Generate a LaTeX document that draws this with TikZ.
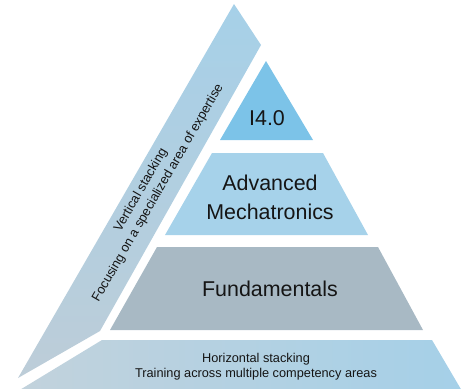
\documentclass[tikz,border=0pt]{standalone}
\usepackage{fontspec}
\setmainfont{Liberation Sans}
\definecolor{cTop}{HTML}{7CC3E8}
\definecolor{cMech}{HTML}{A6D2EA}
\definecolor{cFund}{HTML}{A8B9C4}
\definecolor{cBandA}{HTML}{A6D0E8}
\definecolor{cBandB}{HTML}{BDCDD8}
\definecolor{cBotL}{HTML}{C2D2DC}
\definecolor{cBotR}{HTML}{A5D0E8}
\definecolor{cText}{HTML}{151515}
\tikzset{
  bigtext/.style={font=\fontsize{21.5}{29}\selectfont, text=cText, align=center, inner sep=0pt},
  smalltext/.style={font=\fontsize{12.8}{15}\selectfont, text=cText, align=center, inner sep=0pt},
  slanttext/.style={font=\fontsize{13}{15}\selectfont, text=cText, inner sep=0pt, rotate=60},
}
\begin{document}
\begin{tikzpicture}[x=1bp,y=-1bp]
\useasboundingbox (0,0) rectangle (462,388);
\clip (0,0) rectangle (462,388);
% vertical band
\shade[top color=cBandA, bottom color=cBandB]
  (234,4) -- (261,45) -- (100,331) -- (18,378) -- cycle;
% bottom band
\shade[left color=cBotL, right color=cBotR]
  (102,340) -- (432,340) -- (462,391) -- (18,391) -- cycle;
% pyramid layers
\fill[cTop] (266,61) -- (313,140) -- (220,140) -- cycle;
\fill[cMech] (212,153) -- (323,153) -- (368,235) -- (165,235) -- cycle;
\fill[cFund] (157,247) -- (378,247) -- (423,330) -- (110,330) -- cycle;
% texts
\node[bigtext] (i40) at (267,118) {I4.0};
\node[bigtext] (mech) at (270,197) {Advanced\\Mechatronics};
\node[bigtext] (fund) at (270,289) {Fundamentals};
\node[smalltext] (horiz) at (256,367) {Horizontal stacking\\Training across multiple competency areas};
\node[slanttext] (vert1) at (141,190) {Vertical stacking};
\node[slanttext] (vert2) at (158,193) {Focusing on a specialized area of expertise};
\end{tikzpicture}
\end{document}
